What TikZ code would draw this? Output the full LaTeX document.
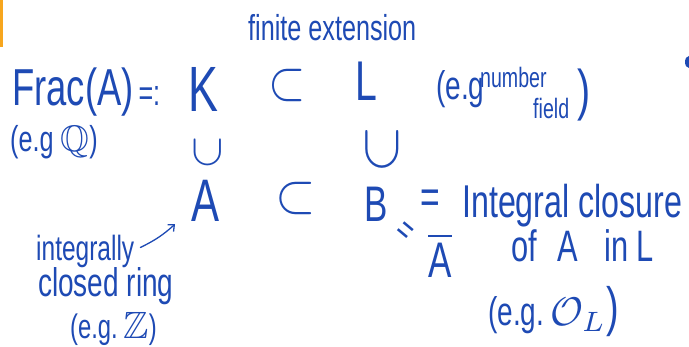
\documentclass[tikz,border=0pt]{standalone}
\usepackage{fontspec}
\usepackage{amssymb}
\usepackage{graphicx}
\setmainfont{Liberation Sans}[FakeStretch=0.7]
\usetikzlibrary{arrows.meta}
\definecolor{ink}{RGB}{30,74,180}
\definecolor{tabbar}{RGB}{247,166,30}
\newcommand\fs[1]{\fontsize{#1}{#1}\selectfont}
% scaled math symbol: \mbx{xscale}{yscale}{math}
\newcommand\mbx[3]{\scalebox{#1}[#2]{\fs{10}$#3$}}
\tikzset{
  hw/.style={text=ink, inner sep=0pt, anchor=base west},
  sym/.style={text=ink, inner sep=0pt, anchor=center},
}
\begin{document}
\begin{tikzpicture}[x=1pt,y=-1pt]
\useasboundingbox (0,0) rectangle (689,347);
\fill[white] (0,0) rectangle (689,347);
% decorations at the edges
\fill[tabbar] (0,0) rectangle (2.5,47);
\fill[ink] (689,62) ellipse [x radius=4, y radius=6];

% top label
\node[hw, font=\fs{36}] (fin) at (248,41) {finite extension};

% first row
\node[hw, font=\fs{52}] (frac) at (12,106) {Frac(A)\fs{36}\hspace{5pt}=:};
\node[hw, font=\fs{64}] (K) at (188,112) {K};
\node[sym] (sub1) at (287,86) {\mbx{4.8}{5.6}{\subset}};
\node[hw, font=\fs{56}] (L) at (355,101) {L};
\node[hw, font=\fs{40}] (eg1) at (436,100) {(e.g};
\node[hw, font=\fs{28}] (num) at (480,88) {number};
\node[hw, font=\fs{28}] (fld) at (533,119) {field};
\node[hw, font=\fs{56}] (rp1) at (577,110) {)};

% second row
\node[hw, font=\fs{36}] (egQ) at (10,152) {(e.g \mbx{3.7}{3.7}{\mathbb{Q}})};
\node[sym] (inK) at (208,152) {\rotatebox{90}{\mbx{4.4}{4.7}{\subset}}};
\node[sym] (inL) at (382,149) {\rotatebox{90}{\mbx{6.2}{5.7}{\subset}}};

% third row
\node[hw, font=\fs{60}] (A) at (191,222) {A};
\node[sym] (sub2) at (296,199) {\mbx{5.2}{5.6}{\subset}};
\node[hw, font=\fs{50}] (B) at (364,222) {B};
\node[sym, font=\fs{48}] (eq) at (430,202) {=};
\node[hw, font=\fs{46}] (intcl) at (462,218) {Integral closure};
\node[sym, font=\fs{36}] (req) at (404,232) {\rotatebox{-40}{=}};
\node[sym, font=\fs{50}] (Abar) at (440,255) {$\overline{\hbox{A}}$};
\node[hw, font=\fs{44}] (ofA) at (511,262) {of\hspace{21pt}A\hspace{26pt}in\hspace{8pt}L};
\node[hw, font=\fs{40}] (egO) at (488,326) {(e.g.\hspace{6pt}\mbx{4}{4}{\mathcal{O}_L}\fs{54})};

% left annotation
\node[hw, font=\fs{35}] (intg) at (36,261) {integrally};
\node[hw, font=\fs{40}] (clr) at (38,297) {closed ring};
\node[hw, font=\fs{34}] (egZ) at (70,339) {(e.g.\,\mbx{3.8}{3.8}{\mathbb{Z}})};

\draw[ink, line width=1.3pt, line cap=round, -{Straight Barb[length=5pt,width=9pt]}]
  ([xshift=6pt,yshift=-12pt]intg.north east) to[bend right=8] ([xshift=-16pt,yshift=-2pt]A.south west);
\end{tikzpicture}
\end{document}
